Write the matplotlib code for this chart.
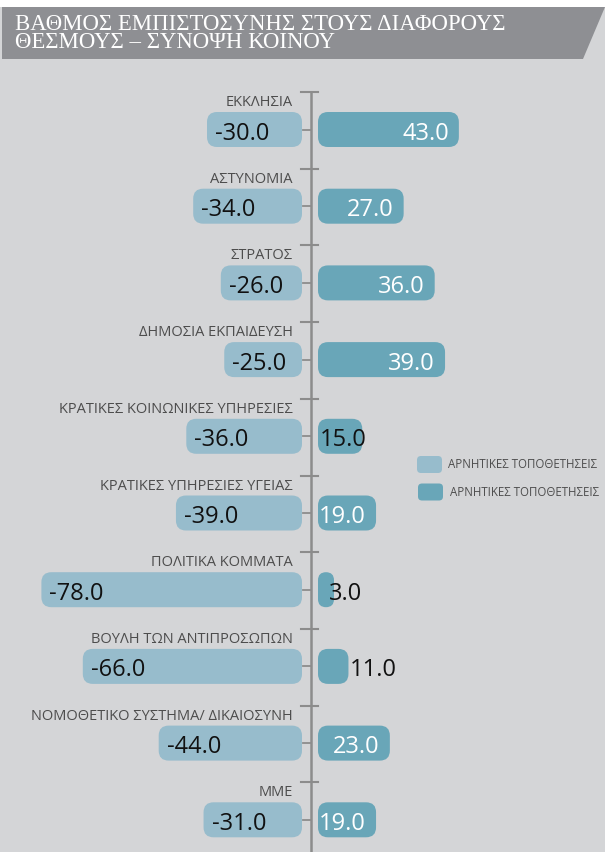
import matplotlib
matplotlib.use("Agg")
import matplotlib.pyplot as plt
from matplotlib.patches import FancyBboxPatch, Polygon
from matplotlib.lines import Line2D

# ---------------- data ----------------
categories = [
    "ΕΚΚΛΗΣΙΑ",
    "ΑΣΤΥΝΟΜΙΑ",
    "ΣΤΡΑΤΟΣ",
    "ΔΗΜΟΣΙΑ ΕΚΠΑΙΔΕΥΣΗ",
    "ΚΡΑΤΙΚΕΣ ΚΟΙΝΩΝΙΚΕΣ ΥΠΗΡΕΣΙΕΣ",
    "ΚΡΑΤΙΚΕΣ ΥΠΗΡΕΣΙΕΣ ΥΓΕΙΑΣ",
    "ΠΟΛΙΤΙΚΑ ΚΟΜΜΑΤΑ",
    "ΒΟΥΛΗ ΤΩΝ ΑΝΤΙΠΡΟΣΩΠΩΝ",
    "ΝΟΜΟΘΕΤΙΚΟ ΣΥΣΤΗΜΑ/ ΔΙΚΑΙΟΣΥΝΗ",
    "ΜΜΕ",
]
negative = [-30.0, -34.0, -26.0, -25.0, -36.0, -39.0, -78.0, -66.0, -44.0, -31.0]
positive = [43.0, 27.0, 36.0, 39.0, 15.0, 19.0, 3.0, 11.0, 23.0, 19.0]
legend_labels = ["ΑΡΝΗΤΙΚΕΣ ΤΟΠΟΘΕΤΗΣΕΙΣ", "ΑΡΝΗΤΙΚΕΣ ΤΟΠΟΘΕΤΗΣΕΙΣ"]
title_lines = ["ΒΑΘΜΟΣ ΕΜΠΙΣΤΟΣΥΝΗΣ ΣΤΟΥΣ ΔΙΑΦΟΡΟΥΣ", "ΘΕΣΜΟΥΣ – ΣΥΝΟΨΗ ΚΟΙΝΟΥ"]

# ---------------- style ----------------
W, H = 605, 852
BG = "#d4d5d7"
BANNER = "#8e8f93"
NEG_C = "#97bccc"
POS_C = "#69a6b8"
AXIS_C = "#8c8c8c"
LABEL_C = "#4d4d4d"
SANS = ["Open Sans", "DejaVu Sans"]
SERIF = ["Liberation Serif", "DejaVu Serif"]

PX_PER_UNIT = 3.45      # horizontal scale
ZERO_PX = 310.5         # x pixel of zero
ROW0_PX = 129.5         # y pixel of first row centre
ROW_PX = 76.7           # pixels per row
BAR_H_PX = 35
RADIUS_PX = 10

fig = plt.figure(figsize=(W / 100, H / 100), dpi=100, facecolor=BG)
ax = fig.add_axes([0, 0, 1, 1])
ax.set_facecolor(BG)
ax.set_xlim(-ZERO_PX / PX_PER_UNIT, (W - ZERO_PX) / PX_PER_UNIT)
ax.set_ylim((H - ROW0_PX) / ROW_PX, -ROW0_PX / ROW_PX)
ax.axis("off")

ux = 1.0 / PX_PER_UNIT   # x units per pixel
uy = 1.0 / ROW_PX        # y units per pixel
bar_h = BAR_H_PX * uy
aspect = uy / ux


def rbar(x0, x1, yc, color):
    w = x1 - x0
    r = min(RADIUS_PX * ux, w / 2.0)
    p = FancyBboxPatch((x0, yc - bar_h / 2), w, bar_h,
                       boxstyle=f"round,pad=0,rounding_size={r}",
                       mutation_aspect=aspect, fc=color, ec="none", zorder=2)
    ax.add_patch(p)


gap_neg = 8.5 * ux
gap_pos = 7.5 * ux
min_w = 16 * ux

# axis line & ticks
ax.add_line(Line2D([0, 0], [-37.5 * uy, (H - ROW0_PX) / ROW_PX], color=AXIS_C, lw=1.8, zorder=1))
for i in range(len(categories)):
    yt = i - 37.5 * uy
    ax.add_line(Line2D([-9.5 * ux, 7.5 * ux], [yt, yt], color=AXIS_C, lw=1.5, zorder=1))
    ax.add_line(Line2D([-7.5 * ux, 0], [i, i], color=AXIS_C, lw=1.3, zorder=1))

# special placement for short positive bars (pixel offsets)
short_offsets = {4: ("start", 2), 6: ("start", 11), 7: ("end", 1)}

for i, (cat, n, p) in enumerate(zip(categories, negative, positive)):
    # negative bar
    rbar(n, -gap_neg, i, NEG_C)
    ax.text(n + 8 * ux, i + 10 * uy, f"{n:.1f}", ha="left", va="baseline",
            fontsize=17, family=SANS, color="#111111", zorder=3)
    # positive bar
    x0 = gap_pos
    x1 = max(p, x0 + min_w)
    rbar(x0, x1, i, POS_C)
    if i in short_offsets:
        mode, off = short_offsets[i]
        xs = (x0 if mode == "start" else x1) + off * ux
        ax.text(xs, i + 10 * uy, f"{p:.1f}", ha="left", va="baseline",
                fontsize=17, family=SANS, color="#111111", zorder=3)
    else:
        ax.text(x1 - 10 * ux, i + 10 * uy, f"{p:.1f}", ha="right", va="baseline",
                fontsize=17, family=SANS, color="white", zorder=3)
    # category label
    ax.text(-17.5 * ux, i - 23.5 * uy, cat, ha="right", va="baseline",
            fontsize=10.5, family=SANS, color=LABEL_C, zorder=3)


# ---------------- banner ----------------
def fx(px):
    return px / W


def fy(py):
    return 1 - py / H


fig.patches.append(plt.Rectangle((0, fy(7)), 1, 7 / H, transform=fig.transFigure,
                                 fc="white", ec="none", zorder=0))
fig.patches.append(Polygon([(fx(2), fy(7)), (fx(605), fy(7)), (fx(583), fy(59)), (fx(2), fy(59))],
                           closed=True, transform=fig.transFigure, fc=BANNER, ec="none", zorder=1))
fig.text(fx(15), fy(29.5), title_lines[0], ha="left", va="baseline", fontsize=16.4,
         family=SERIF, color="white")
fig.text(fx(15), fy(48.5), title_lines[1], ha="left", va="baseline", fontsize=16.4,
         family=SERIF, color="white")

# ---------------- legend ----------------
for k, (lab, col) in enumerate(zip(legend_labels, [NEG_C, POS_C])):
    top = 456 + k * 27.5
    left = 417 + k
    sw = FancyBboxPatch((fx(left), fy(top + 17)), 25 / W, 17 / H,
                        boxstyle=f"round,pad=0,rounding_size={4 / W}",
                        mutation_aspect=W / H, transform=fig.transFigure,
                        fc=col, ec="none")
    fig.patches.append(sw)
    fig.text(fx(448 + k * 2), fy(top + 12.5), lab, ha="left", va="baseline",
             fontsize=8.3, family=SANS, color=LABEL_C)

fig.savefig("out.png", dpi=100, facecolor=BG)
